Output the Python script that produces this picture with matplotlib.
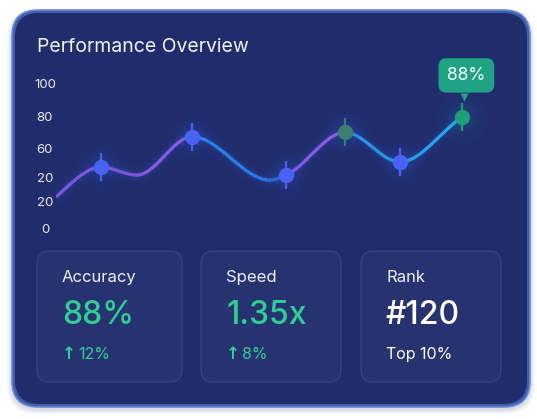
import numpy as np
import matplotlib
matplotlib.use("Agg")
import matplotlib.pyplot as plt
from matplotlib.patches import FancyBboxPatch
from matplotlib.collections import LineCollection
from matplotlib.colors import to_rgb
from matplotlib.transforms import offset_copy

# ---------------- data ----------------
title = "Performance Overview"
ytick_values = [0, 18, 34.5, 55, 77, 100]
ytick_labels = ["0", "20", "20", "60", "80", "100"]

# smooth line knots (x position, value)
line_x = [0, 10.2, 18.3, 30.8, 48.4, 52.0, 65.4, 77.8, 91.9]
line_y = [21.5, 42.0, 36.5, 63.0, 33.0, 36.5, 66.0, 45.5, 76.5]

# highlighted points
marker_x = [10.2, 30.8, 52.0, 65.4, 77.8, 91.9]
marker_y = [42.0, 63.0, 36.5, 66.0, 45.5, 76.5]
marker_kind = ["blue", "blue", "blue", "teal", "blue", "green"]
tooltip_text = "88%"

card_labels = ["Accuracy", "Speed", "Rank"]
card_values = ["88%", "1.35x", "#120"]
card_arrows = ["\u2191", "\u2191", ""]
card_subs = ["12%", "8%", "Top 10%"]
card_value_colors = ["#2fcf92", "#2fcf92", "#ffffff"]
card_sub_colors = ["#2fcf92", "#2fcf92", "#ffffff"]

# ---------------- figure ----------------
W, H = 537, 419
fig = plt.figure(figsize=(W / 100, H / 100), dpi=100)
fig.patch.set_facecolor("white")
FONT = ["Inter", "DejaVu Sans"]

bg = fig.add_axes([0, 0, 1, 1], zorder=0)
bg.set_xlim(0, W)
bg.set_ylim(H, 0)
bg.axis("off")

# outer panel shadow + panel
for i, a in enumerate([0.05, 0.05, 0.06]):
    bg.add_patch(FancyBboxPatch((12 - (3 - i) * 1.5, 12 - (3 - i) * 0.5), 518 + (3 - i) * 3, 397 + (3 - i) * 2,
                                boxstyle="round,pad=0,rounding_size=28", fc="#1a2a6a", ec="none", alpha=a))
bg.add_patch(FancyBboxPatch((12, 10), 518, 397, boxstyle="round,pad=0,rounding_size=26",
                            fc="#3f5fae", ec="#6a8ad0", lw=1.2))
bg.add_patch(FancyBboxPatch((15, 13), 512, 391, boxstyle="round,pad=0,rounding_size=24",
                            fc="#202c6c", ec="none"))

bg.text(37, 47, title, fontsize=14, color="#f2f4fb", family=FONT, va="center", ha="left")

# mini cards
card_x = [37, 201, 361]
card_w = [145, 140, 140]
for i in range(3):
    x0 = card_x[i]
    bg.add_patch(FancyBboxPatch((x0, 251), card_w[i], 131, boxstyle="round,pad=0,rounding_size=12",
                                fc=(1, 1, 1, 0.035), ec=(1, 1, 1, 0.09), lw=1))
    tx = x0 + 25
    bg.text(tx, 277, card_labels[i], fontsize=12, color="#eef1fa", family=FONT, va="center", ha="left")
    bg.text(tx, 315, card_values[i], fontsize=23, color=card_value_colors[i], family=FONT,
            va="center", ha="left", fontweight="medium")
    if card_arrows[i]:
        bg.text(tx, 354, card_arrows[i], fontsize=12, color=card_sub_colors[i],
                family=["DejaVu Sans"], va="center", ha="left", fontweight="bold")
        bg.text(tx + 16, 354, card_subs[i], fontsize=11.5, color=card_sub_colors[i], family=FONT,
                va="center", ha="left")
    else:
        bg.text(tx, 354, card_subs[i], fontsize=11.5, color=card_sub_colors[i], family=FONT,
                va="center", ha="left")

# ---------------- chart axes ----------------
px_l, px_r, px_y0, px_y100 = 56, 498, 228, 83
px_top = 40
ax = fig.add_axes([px_l / W, (H - px_y0) / H, (px_r - px_l) / W, (px_y0 - px_top) / H], zorder=2)
ax.set_facecolor("none")
ax.set_xlim(0, 100)
ax.set_ylim(0, 100 * (px_y0 - px_top) / (px_y0 - px_y100))
for s in ax.spines.values():
    s.set_visible(False)
ax.set_xticks([])
ax.set_yticks(ytick_values)
ax.set_yticklabels(ytick_labels)
ax.tick_params(axis="y", length=0, pad=8, labelsize=9.5, labelcolor="#e9ecf7")
for lab in ax.get_yticklabels():
    lab.set_horizontalalignment("center")
    lab.set_family(FONT)
ax.axhline(0, color="#34488f", lw=1)


def smooth(xs, ys, n=60):
    xs = np.asarray(xs, float)
    ys = np.asarray(ys, float)
    h = np.diff(xs)
    d = np.diff(ys) / h
    m = np.zeros_like(ys)
    for i in range(1, len(xs) - 1):
        if d[i - 1] * d[i] > 0:
            w1 = 2 * h[i] + h[i - 1]
            w2 = h[i] + 2 * h[i - 1]
            m[i] = (w1 + w2) / (w1 / d[i - 1] + w2 / d[i])
    m[0] = d[0] * 1.3
    m[-1] = d[-1] * 0.9
    X, Y = [], []
    for i in range(len(xs) - 1):
        t = np.linspace(0, 1, n, endpoint=(i == len(xs) - 2))
        h00 = 2 * t**3 - 3 * t**2 + 1
        h10 = t**3 - 2 * t**2 + t
        h01 = -2 * t**3 + 3 * t**2
        h11 = t**3 - t**2
        X.append(xs[i] + t * h[i])
        Y.append(h00 * ys[i] + h10 * h[i] * m[i] + h01 * ys[i + 1] + h11 * h[i] * m[i + 1])
    return np.concatenate(X), np.concatenate(Y)


cx, cy = smooth(line_x, line_y)
stops = [(0, "#8a5cf5"), (30.3, "#a05ff0"), (31.3, "#2f8af5"), (51.5, "#2a7ff2"), (52.5, "#8c5cf2"),
         (64.9, "#a062f0"), (65.9, "#2a9ef5"), (100, "#22c3f6")]
sx = np.array([s[0] for s in stops])
sc = np.array([to_rgb(s[1]) for s in stops])
mid = (cx[:-1] + cx[1:]) / 2
cols = np.stack([np.interp(mid, sx, sc[:, k]) for k in range(3)], axis=1)
pts = np.column_stack([cx, cy]).reshape(-1, 1, 2)
segs = np.concatenate([pts[:-1], pts[1:]], axis=1)

# soft glow under the line (single path so alpha doesn't stack)
for lw, a in [(12, 0.05), (6, 0.08)]:
    ax.plot(cx, cy, color="#3a70f0", lw=lw, alpha=a, solid_capstyle="round", zorder=3)
ax.add_collection(LineCollection(segs, colors=cols, linewidths=2.3, capstyle="butt", zorder=4))

kind_color = {"blue": "#4862f4", "teal": "#3a8074", "green": "#1f9e7a"}
for x, y, k in zip(marker_x, marker_y, marker_kind):
    c = kind_color[k]
    glow = "#3a6cf0" if k != "green" else "#2a8fa0"
    for s, a in [(1400, 0.03), (700, 0.045), (350, 0.06)]:
        ax.scatter([x], [y], s=s, color=glow, alpha=a, lw=0, zorder=3, clip_on=False)
    ax.plot([x], [y], marker="|", ms=20, mew=1.6, color=c, zorder=5, clip_on=False)
    ax.plot([x], [y], marker="o", ms=11, color=c, mec="none", zorder=6, clip_on=False)

# tooltip on last point
tx, ty = marker_x[-1], marker_y[-1]
ax.annotate(tooltip_text, xy=(tx, ty), xytext=(3, 30), textcoords="offset points",
            ha="center", va="center", fontsize=12.5, color="white", family=FONT, zorder=8,
            bbox=dict(boxstyle="round,pad=0.5,rounding_size=0.45", fc="#1fa383", ec="none"))
ax.plot([tx], [ty], marker="v", ms=6, color="#1fa383", mec="none", zorder=8, clip_on=False,
        transform=offset_copy(ax.transData, fig=fig, x=1.5, y=20, units="dots"))

fig.savefig("out.png", dpi=100, facecolor="white")
